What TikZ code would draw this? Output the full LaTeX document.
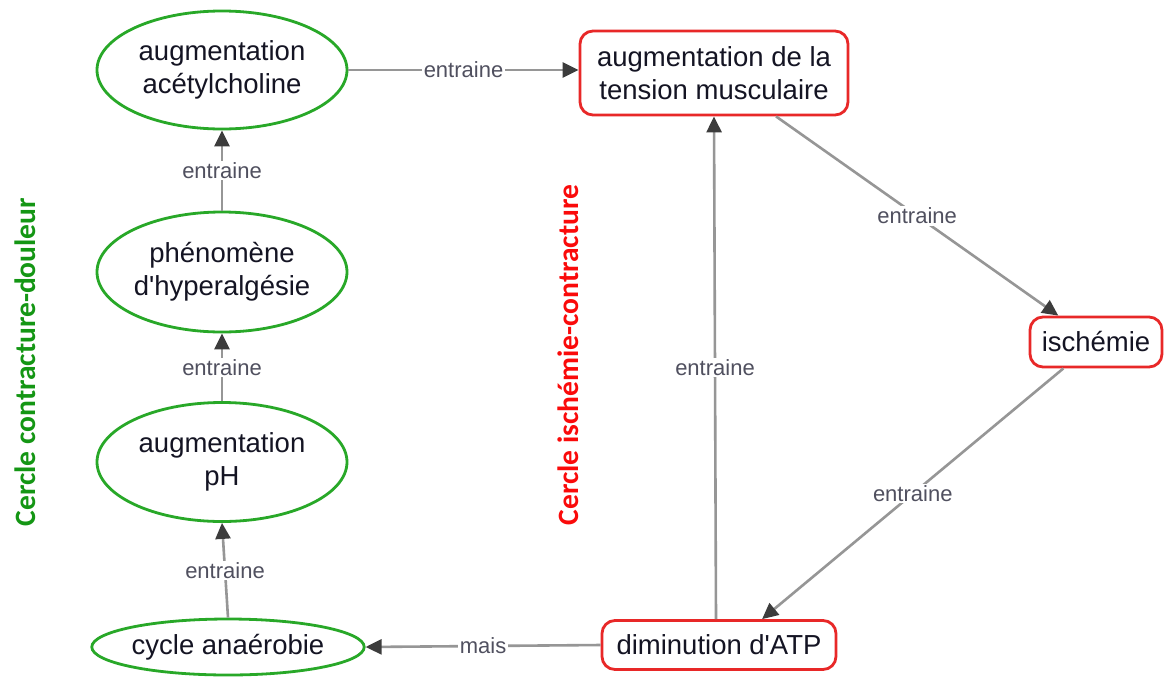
\documentclass[tikz,border=0pt]{standalone}
\usepackage{fontspec}
\setmainfont{Liberation Sans}
\newfontfamily\titlefont{Carlito}
\usetikzlibrary{shapes.geometric,arrows.meta}
\definecolor{cgreen}{RGB}{40,168,40}
\definecolor{cred}{RGB}{232,40,40}
\definecolor{tgreen}{RGB}{20,150,20}
\definecolor{tred}{RGB}{250,10,10}
\definecolor{ink}{RGB}{20,20,35}
\definecolor{lbl}{RGB}{80,80,95}
\definecolor{wire}{RGB}{150,150,150}
\definecolor{tip}{RGB}{60,60,60}
\tikzset{
  oval/.style={ellipse, draw=cgreen, line width=2.8pt, inner sep=0pt, align=center,
    text=ink, font=\fontsize{27.5}{33}\selectfont},
  rbox/.style={rectangle, rounded corners=13pt, draw=cred, line width=2.8pt, inner sep=0pt,
    align=center, text=ink, font=\fontsize{27.5}{33}\selectfont},
  link/.style={draw=wire, line width=2.6pt,
    -{Triangle[length=16pt,width=15pt,fill=tip,color=tip]}},
  tag/.style={fill=white, inner sep=1.5pt, text=lbl, font=\fontsize{22}{24}\selectfont},
  title/.style={rotate=90, font=\titlefont\bfseries\fontsize{29.5}{31}\selectfont}
}
\begin{document}
\begin{tikzpicture}[x=1pt,y=-1pt]
  \useasboundingbox[fill=white] (0,0) rectangle (1164,681);

  % left loop
  \node[oval, minimum width=250pt, minimum height=118pt] (ach) at (222,70) {augmentation\\acétylcholine};
  \node[oval, minimum width=250pt, minimum height=120pt] (hyp) at (222,272) {phénomène\\d\textquotesingle hyperalgésie};
  \node[oval, minimum width=250pt, minimum height=119pt] (ph) at (222,462) {augmentation\\pH};
  \node[oval, minimum width=261pt, minimum height=56pt] (ana) at (228,647) {cycle anaérobie};

  % right loop
  \node[rbox, minimum width=268pt, minimum height=84pt] (ten) at (714,73) {augmentation de la\\tension musculaire};
  \node[rbox, minimum width=132pt, minimum height=50pt] (isc) at (1096,342) {ischémie};
  \node[rbox, minimum width=234pt, minimum height=49pt] (atp) at (719,645) {diminution d\textquotesingle ATP};

  % loop titles
  \node[title, text=tgreen] (t1) at (25,362) {Cercle contracture-douleur};
  \node[title, text=tred] (t2) at (568,355) {Cercle ischémie-contracture};

  % connectors
  \draw[link] (ach.east) -- node[tag] {entraine} (ach.east -| ten.west);
  \draw[link] (hyp.north) -- node[tag] {entraine} (ach.south);
  \draw[link] (ph.north) -- node[tag] {entraine} (hyp.south);
  \draw[link] (ana.north) -- node[tag] {entraine} (ph.south);
  \draw[link] ([xshift=-3pt]atp.north) -- node[tag] {entraine} (ten.south);
  \draw[link] (ten.325) -- node[tag] {entraine} (isc.145);
  \draw[link] (isc.219) -- node[tag] {entraine} (atp.31);
  \draw[link] (atp.west) -- node[tag] {mais} (ana.east);
\end{tikzpicture}
\end{document}
